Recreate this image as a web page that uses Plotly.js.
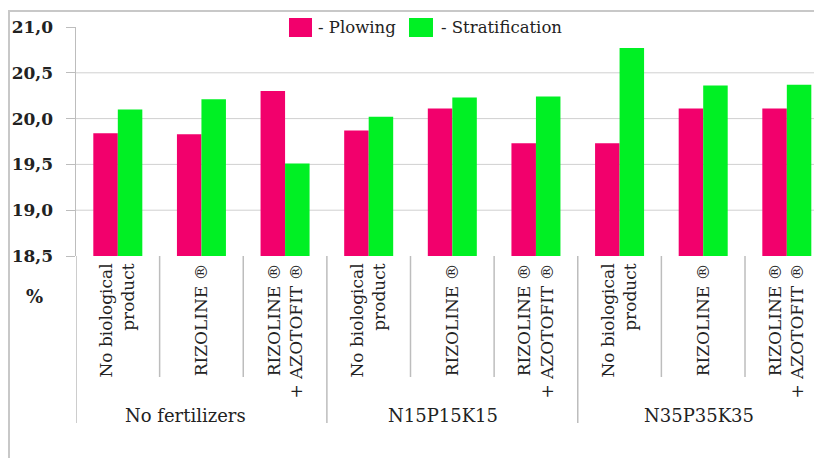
<!DOCTYPE html>
<html>
<head>
<meta charset="utf-8">
<script src="https://cdn.plot.ly/plotly-3.0.1.min.js"></script>
<style>
  html, body { margin: 0; padding: 0; background: #ffffff; }
  #chart { width: 814px; height: 458px; }
</style>
</head>
<body>
<div id="chart"></div>
<script>
// ---- data ----
var groups = ["No fertilizers", "N15P15K15", "N35P35K35"];
var treatments = ["No biological<br>product", "RIZOLINE ®", "RIZOLINE ®<br>+ AZOTOFIT ®"];
var plowing =       [19.84, 19.83, 20.30, 19.87, 20.11, 19.73, 19.73, 20.11, 20.11];
var stratification = [20.10, 20.21, 19.51, 20.02, 20.23, 20.24, 20.77, 20.36, 20.37];
var yTicks = [18.5, 19.0, 19.5, 20.0, 20.5, 21.0];
var seriesNames = ["- Plowing", "- Stratification"];
var colors = ["#F2006C", "#00F024"];

// ---- build categories ----
var cats = [], tickText = [];
groups.forEach(function (g) {
  treatments.forEach(function (t) {
    cats.push(g + " | " + t);
    tickText.push(t);
  });
});

var serif = "DejaVu Serif";

var traces = [
  { type: "bar", name: "Plowing", x: cats, y: plowing, marker: { color: colors[0] }, hoverinfo: "y" },
  { type: "bar", name: "Stratification", x: cats, y: stratification, marker: { color: colors[1] }, hoverinfo: "y" }
];

// ---- geometry helpers (pixel -> paper) ----
var L = 76, T = 27, W = 738, H = 229;
function px(xp) { return (xp - L) / W; }
function py(yp) { return (T + H - yp) / H; }

var shapes = [];
// outer frame
shapes.push({ type: "rect", xref: "paper", yref: "paper", x0: px(9), x1: 1.05, y0: -1.2, y1: py(11),
  line: { color: "#c8c8c8", width: 2 }, layer: "below" });
// horizontal grid lines (interior ticks only)
yTicks.slice(1, -1).forEach(function (v) {
  shapes.push({ type: "line", xref: "paper", yref: "y", x0: 0, x1: 1, y0: v, y1: v,
    line: { color: "#d0d0d0", width: 1 }, layer: "below" });
});
// separators between categories
for (var i = 0; i < cats.length; i++) {
  var isGroup = (i % treatments.length === 0);
  shapes.push({ type: "line", xref: "x", yref: "paper", x0: i - 0.5, x1: i - 0.5,
    y0: 0, y1: isGroup ? py(423) : py(377),
    line: { color: "#bdbdbd", width: 1.5 } });
}
// manual legend boxes
shapes.push({ type: "rect", xref: "paper", yref: "paper", x0: px(289), x1: px(312), y0: py(37), y1: py(18),
  fillcolor: colors[0], line: { width: 0 } });
shapes.push({ type: "rect", xref: "paper", yref: "paper", x0: px(409), x1: px(433), y0: py(37), y1: py(18),
  fillcolor: colors[1], line: { width: 0 } });

var annotations = [];
annotations.push({ xref: "paper", yref: "paper", x: px(316), y: py(27), xanchor: "left", yanchor: "middle",
  text: seriesNames[0], showarrow: false, font: { family: serif, size: 16.5, color: "#222" } });
annotations.push({ xref: "paper", yref: "paper", x: px(439), y: py(27), xanchor: "left", yanchor: "middle",
  text: seriesNames[1], showarrow: false, font: { family: serif, size: 16.5, color: "#222" } });
// group labels
var groupPos = [0.81, 3.89, 6.95];
groups.forEach(function (g, k) {
  annotations.push({ xref: "x", yref: "paper", x: groupPos[k], y: py(416), xanchor: "center", yanchor: "middle",
    text: g, showarrow: false, font: { family: serif, size: 18, color: "#222" } });
});
// unit label
annotations.push({ xref: "paper", yref: "paper", x: px(34), y: py(296), xanchor: "center", yanchor: "middle",
  text: "<b>%</b>", showarrow: false, font: { family: serif, size: 18, color: "#222" } });

var layout = {
  width: 814, height: 458,
  margin: { l: L, r: 814 - L - W, t: T, b: 458 - T - H, pad: 0 },
  paper_bgcolor: "#ffffff", plot_bgcolor: "#ffffff",
  separators: ", ",
  showlegend: false,
  barmode: "group",
  bargap: 0.414,
  bargroupgap: 0,
  font: { family: serif, color: "#222" },
  xaxis: {
    type: "category",
    range: [-0.5, 8.325],
    tickmode: "array",
    tickvals: cats,
    ticktext: tickText,
    tickangle: -90,
    ticks: "",
    ticklabelstandoff: 3,
    showgrid: false,
    showline: false,
    zeroline: false,
    tickfont: { family: serif, size: 17, color: "#222" },
    automargin: false
  },
  yaxis: {
    range: [18.5, 21.0],
    tickmode: "array",
    tickvals: yTicks,
    tickformat: ".1f",
    ticks: "outside",
    ticklen: 9,
    tickcolor: "#bdbdbd",
    showline: true,
    linecolor: "#bdbdbd",
    linewidth: 1.5,
    showgrid: false,
    zeroline: false,
    ticklabelstandoff: 9,
    tickfont: { family: serif, size: 17, color: "#222", weight: "bold" },
    automargin: false
  },
  shapes: shapes,
  annotations: annotations
};

Plotly.newPlot("chart", traces, layout, { displayModeBar: false, staticPlot: true });
</script>
</body>
</html>
